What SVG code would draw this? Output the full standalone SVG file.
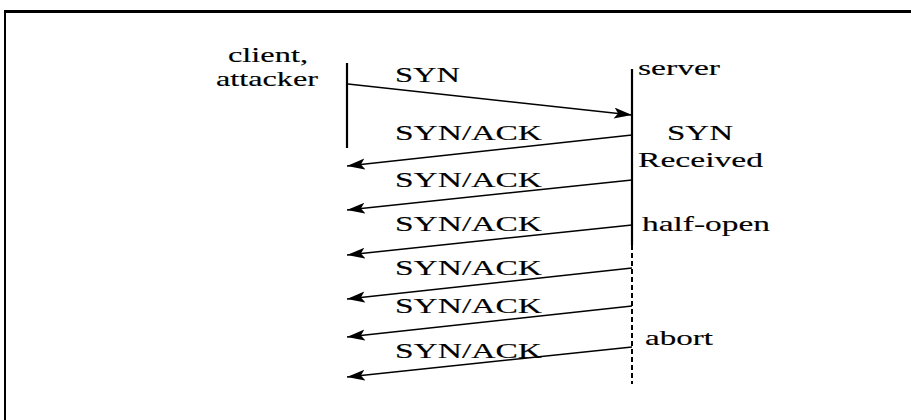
<svg xmlns="http://www.w3.org/2000/svg" width="911" height="420" viewBox="0 0 911 420">
  <style>
    text { font-family: "Liberation Serif", "Times New Roman", serif; font-size: 22px; fill: #000; stroke: #000; stroke-width: 0.15; }
    .msg { fill: none; stroke: #000; stroke-width: 1.5; marker-end: url(#arr); }
    .life { stroke: #000; stroke-width: 2.2; fill: none; }
    .dash { stroke: #000; stroke-width: 2; stroke-dasharray: 5 3; fill: none; }
  </style>
  <defs>
    <marker id="arr" markerUnits="userSpaceOnUse" markerWidth="20" markerHeight="12" refX="18" refY="5.5" orient="auto">
      <path d="M0,0 L18,5.5 L0,11 L4,5.5 z" fill="#000"/>
    </marker>
  </defs>
  <rect width="911" height="420" fill="#fff"/>
  <g id="frame">
    <line x1="4" y1="11.5" x2="911" y2="11.5" stroke="#000" stroke-width="3"/>
    <line x1="5" y1="10" x2="5" y2="420" stroke="#000" stroke-width="2"/>
  </g>
  <g id="client">
    <line class="life" x1="347" y1="63" x2="347" y2="148"/>
    <text x="228" y="62" textLength="80" lengthAdjust="spacingAndGlyphs">client,</text>
    <text x="216" y="86" textLength="102" lengthAdjust="spacingAndGlyphs">attacker</text>
  </g>
  <g id="server">
    <line class="life" x1="632" y1="69" x2="632" y2="245"/>
    <line class="dash" x1="632" y1="245" x2="632" y2="384"/>
    <text x="638" y="75" textLength="82" lengthAdjust="spacingAndGlyphs">server</text>
    <text x="667" y="140" textLength="66" lengthAdjust="spacingAndGlyphs">SYN</text>
    <text x="638" y="167" textLength="125" lengthAdjust="spacingAndGlyphs">Received</text>
    <text x="642" y="231" textLength="128" lengthAdjust="spacingAndGlyphs">half-open</text>
    <text x="645" y="345" textLength="68" lengthAdjust="spacingAndGlyphs">abort</text>
  </g>
  <g id="connectors">
    <line class="msg" x1="348" y1="84" x2="632" y2="115"/>
    <line class="msg" x1="632" y1="135" x2="347" y2="166"/>
    <line class="msg" x1="632" y1="180" x2="347" y2="210"/>
    <line class="msg" x1="632" y1="225" x2="347" y2="255"/>
    <line class="msg" x1="632" y1="268" x2="347" y2="299"/>
    <line class="msg" x1="632" y1="306" x2="347" y2="337"/>
    <line class="msg" x1="632" y1="347" x2="347" y2="377"/>
  </g>
  <g id="labels">
    <text x="395" y="82" textLength="65" lengthAdjust="spacingAndGlyphs">SYN</text>
    <text x="395" y="140" textLength="147" lengthAdjust="spacingAndGlyphs">SYN/ACK</text>
    <text x="395" y="187" textLength="147" lengthAdjust="spacingAndGlyphs">SYN/ACK</text>
    <text x="395" y="231" textLength="147" lengthAdjust="spacingAndGlyphs">SYN/ACK</text>
    <text x="395" y="275" textLength="147" lengthAdjust="spacingAndGlyphs">SYN/ACK</text>
    <text x="395" y="313" textLength="147" lengthAdjust="spacingAndGlyphs">SYN/ACK</text>
    <text x="395" y="358" textLength="147" lengthAdjust="spacingAndGlyphs">SYN/ACK</text>
  </g>
</svg>
